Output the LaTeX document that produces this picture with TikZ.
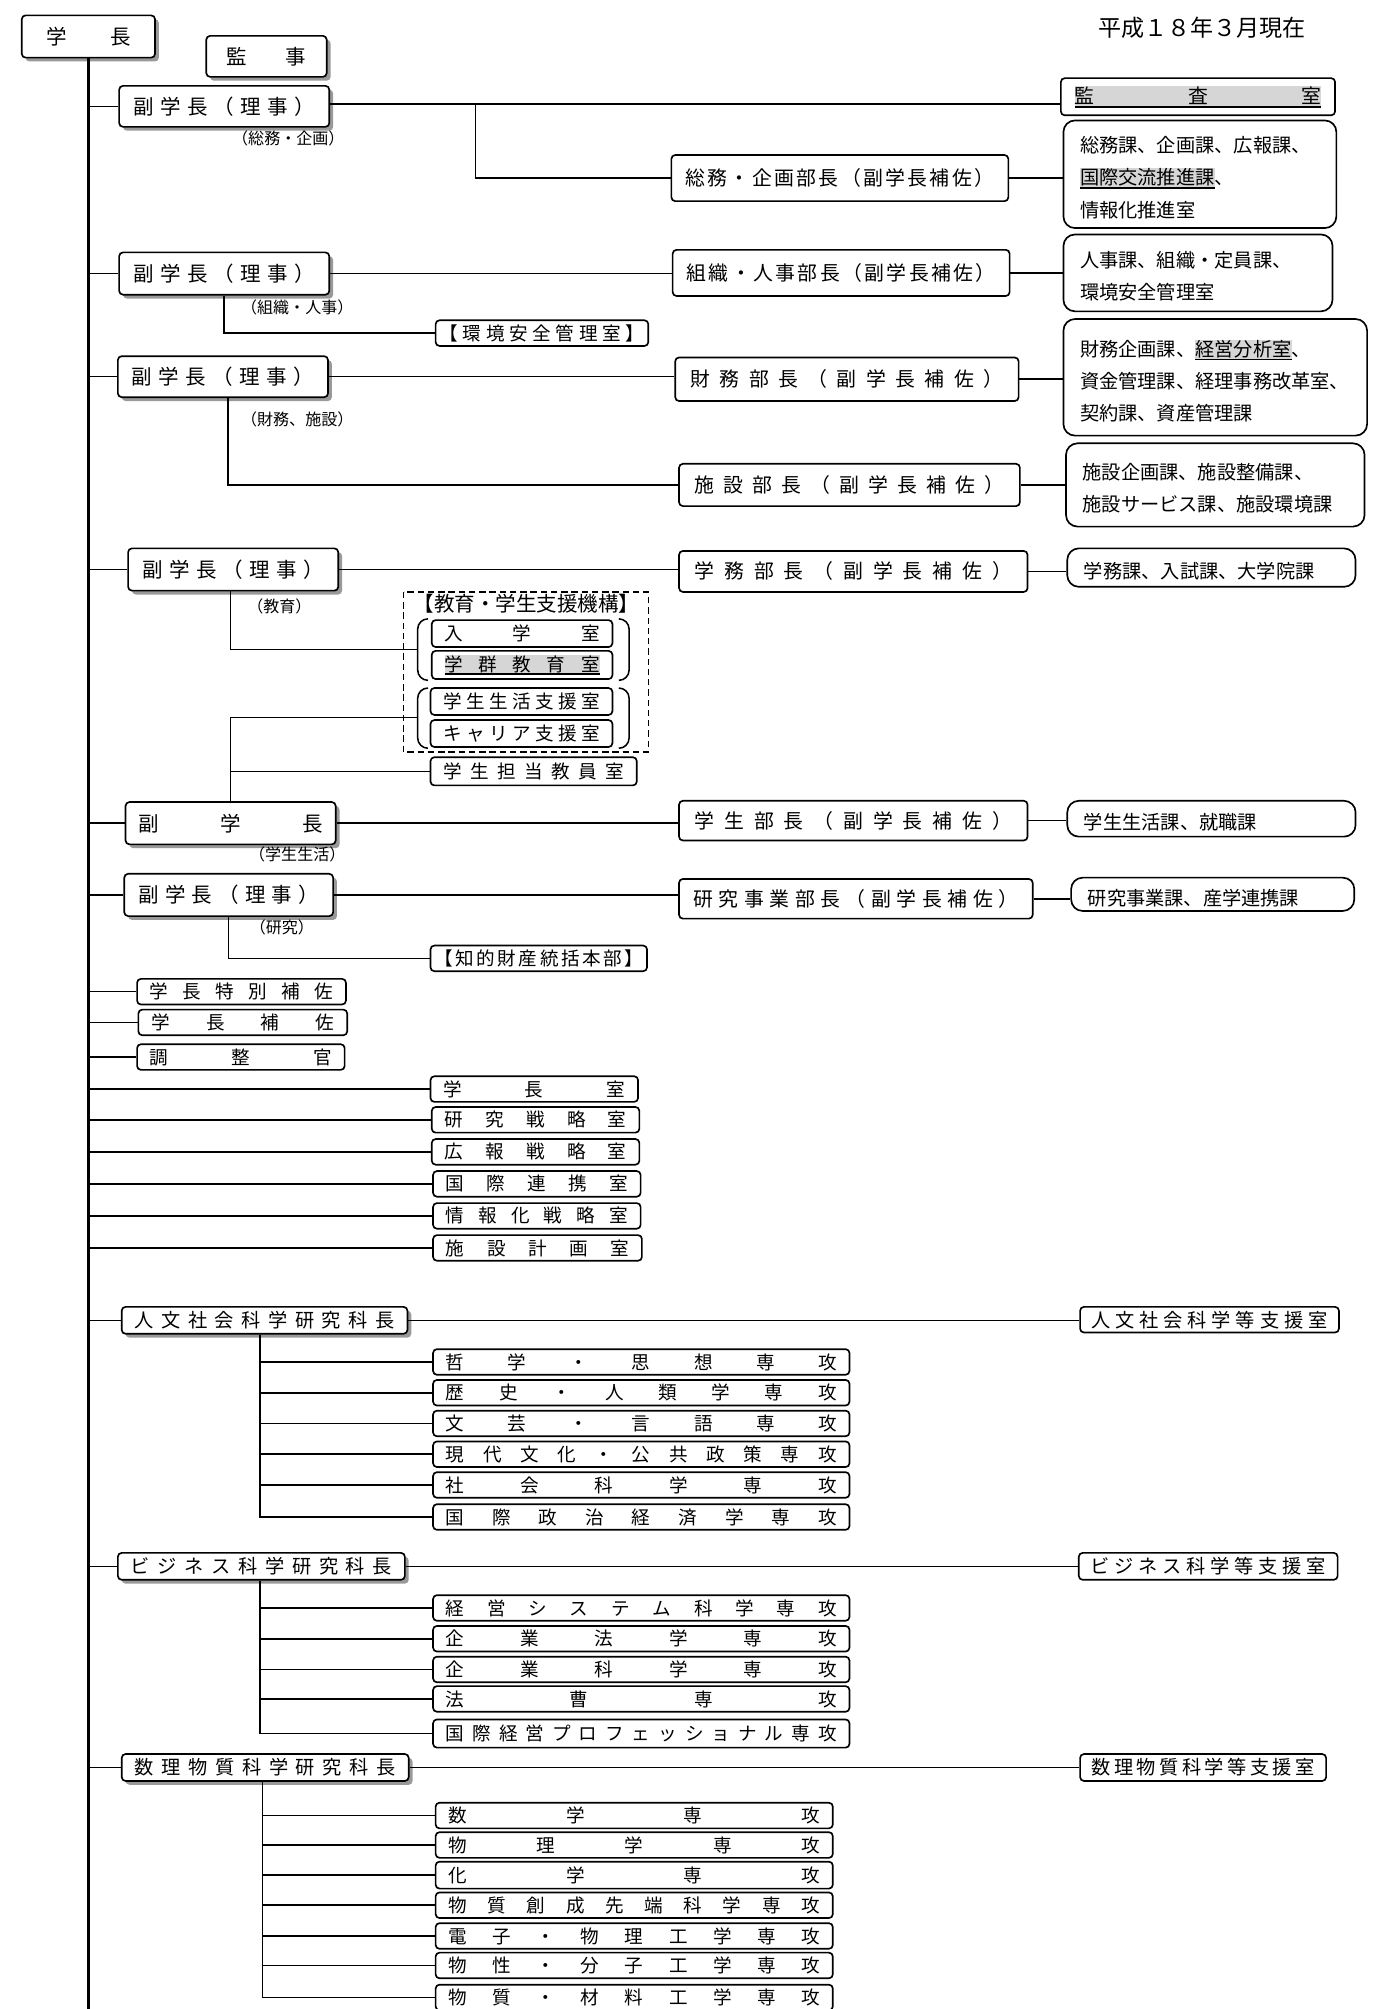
\documentclass[tikz,border=0pt]{standalone}
\usepackage{fontspec}
\setmainfont{Noto Sans CJK JP}
\usetikzlibrary{shadows}
\definecolor{hlgray}{gray}{0.84}
\makeatletter
\newcommand\spr[2]{\makebox[#1][s]{\vrule width0pt height.88em depth.12em\let\spr@first\relax\@tfor\spr@c:=#2\do{\ifx\spr@first\relax\let\spr@first\empty\else\hfill\fi\spr@c}}}
\makeatother
\newsavebox\hlsave
\newcommand\hlu[1]{\leavevmode\sbox\hlsave{#1}\rlap{\color{hlgray}\vrule width\wd\hlsave height.86em depth.13em}\rlap{\vrule width\wd\hlsave height-.13em depth.23em}\usebox\hlsave}
\newcommand\fs[1]{\fontsize{#1pt}{#1pt}\selectfont}
\tikzset{
 box/.style={draw, line width=1.3pt, rounded corners=3pt, fill=white, inner sep=0pt, font=\fs{14.5}},
 bigbox/.style={box, font=\fs{16}, general shadow={fill=black!40, shadow xshift=3pt, shadow yshift=-3pt}},
 bubox/.style={box, font=\fs{15.5}},
 lbox/.style={draw, line width=1.3pt, rounded corners=9pt, fill=white, inner xsep=13pt, inner ysep=0pt, align=left, font=\fontsize{15pt}{25pt}\selectfont},
 conn/.style={line width=1.2pt},
 mainln/.style={line width=2pt},
 lab/.style={inner sep=0pt, font=\fs{12.5}},
}
\newcommand\bx[8][]{%
 \pgfmathsetmacro\bxw{#5-(#3)}\pgfmathsetmacro\bxh{#6-(#4)}\pgfmathsetmacro\bxt{#5-(#3)-2*(#7)}%
 \node[box,#1,minimum width=\bxw pt,minimum height=\bxh pt] (#2) at ({(#3+#5)/2},{(#4+#6)/2}) {\spr{\bxt pt}{#8}};}
\newcommand\bxH[8][]{%
 \pgfmathsetmacro\bxw{#5-(#3)}\pgfmathsetmacro\bxh{#6-(#4)}\pgfmathsetmacro\bxt{#5-(#3)-2*(#7)}%
 \node[box,#1,minimum width=\bxw pt,minimum height=\bxh pt] (#2) at ({(#3+#5)/2},{(#4+#6)/2}) {\hlu{\spr{\bxt pt}{#8}}};}
\newcommand\lbx[6]{%
 \pgfmathsetmacro\bxw{#4-(#2)}\pgfmathsetmacro\bxh{#5-(#3)}\pgfmathsetmacro\bxt{#4-(#2)-26}%
 \node[lbox,minimum width=\bxw pt,minimum height=\bxh pt,text width=\bxt pt] (#1) at ({(#2+#4)/2},{(#3+#5)/2}) {\rule{0pt}{18pt}#6};}
\begin{document}
\begin{tikzpicture}[x=1pt,y=-1pt]
\useasboundingbox (0,0) rectangle (1076,1568);
\node[font=\fs{18}, inner sep=0pt] (date) at (938,22) {平成１８年３月現在};
% top level
\bx[bigbox]{gakucho}{17}{12}{121}{45}{19}{学長}
\bx[bigbox]{kanji}{161}{28}{255}{60}{16}{監事}
\bx[bigbox]{fuku1}{93}{67}{257}{99}{11}{副学長（理事）}
\bx[bigbox]{fuku2}{93}{197}{257}{230}{11}{副学長（理事）}
\bx[bigbox]{fuku3}{92}{278}{256}{310}{11}{副学長（理事）}
\bx[bigbox]{fuku4}{100}{428}{264}{461}{11}{副学長（理事）}
\bx[bigbox]{fuku5}{98}{626}{262}{659}{10}{副学長}
\bx[bigbox]{fuku6}{97}{682}{260}{715}{11}{副学長（理事）}
\node[lab] (lb1) at (225,108) {（総務・企画）};
\node[lab] (lb2) at (232,240) {（組織・人事）};
\node[lab] (lb3) at (232,327) {（財務、施設）};
\node[lab] (lb4) at (218,473) {（教育）};
\node[lab] (lb5) at (232,667) {（学生生活）};
\node[lab] (lb6) at (220,724) {（研究）};
% department heads
\bxH[bubox]{kansa}{828}{61}{1042}{90}{11}{監査室}
\bx[bubox]{soumubu}{524}{121}{787}{157}{11}{総務・企画部長（副学長補佐）}
\bx[bubox]{soshikibu}{525}{195}{788}{231}{11}{組織・人事部長（副学長補佐）}
\bx[bubox]{zaimubu}{527}{279}{795}{313}{12}{財務部長（副学長補佐）}
\bx[bubox]{shisetsubu}{530}{362}{796}{395}{12}{施設部長（副学長補佐）}
\bx[bubox]{gakumubu}{530}{430}{802}{462}{12}{学務部長（副学長補佐）}
\bx[bubox]{gakuseibu}{530}{625}{802}{656}{12}{学生部長（副学長補佐）}
\bx[bubox]{kenkyubu}{530}{686}{806}{717}{11}{研究事業部長（副学長補佐）}
% lists
\lbx{l1}{830}{94}{1043}{178}{総務課、企画課、広報課、\\\hlu{国際交流推進課}、\\情報化推進室}
\lbx{l2}{830}{183}{1040}{243}{人事課、組織・定員課、\\環境安全管理室}
\lbx{l3}{830}{249}{1067}{340}{財務企画課、\hlu{経営分析室}、\\資金管理課、経理事務改革室、\\契約課、資産管理課}
\lbx{l4}{832}{346}{1065}{411}{施設企画課、施設整備課、\\施設サービス課、施設環境課}
\lbx{l5}{833}{428}{1058}{458}{学務課、入試課、大学院課}
\lbx{l6}{833}{625}{1058}{653}{学生生活課、就職課}
\lbx{l7}{836}{685}{1057}{711}{研究事業課、産学連携課}
% middle column
\bx{kankyo}{340}{250}{506}{270}{3}{【環境安全管理室】}
\draw[line width=1.2pt, dash pattern=on 5pt off 3pt] (315,462) rectangle (506,587);
\node[font=\fs{16}, inner sep=0pt] (kikou) at (411,471) {【教育・学生支援機構】};
\bx{nyugaku}{337}{484}{478}{505}{10}{入学室}
\bxH{gakugun}{337}{508}{478}{530}{10}{学群教育室}
\bx{seikatsu}{336}{537}{478}{558}{10}{学生生活支援室}
\bx{career}{336}{562}{478}{583}{10}{キャリア支援室}
\bx{tantou}{336}{591}{497}{613}{10}{学生担当教員室}
\bx{chiteki}{336}{738}{505}{758}{3}{【知的財産統括本部】}
\draw[conn, rounded corners=8pt] (334,483) -- (326,483) -- (326,531) -- (334,531);
\draw[conn, rounded corners=8pt] (483,483) -- (491,483) -- (491,531) -- (483,531);
\draw[conn, rounded corners=8pt] (334,537) -- (326,537) -- (326,584) -- (334,584);
\draw[conn, rounded corners=8pt] (483,537) -- (491,537) -- (491,584) -- (483,584);
\coordinate (br1) at (326,507);
\coordinate (br2) at (326,560);
% staff
\bx{tokubetsu}{107}{764}{270}{784}{10}{学長特別補佐}
\bx{hosa}{108}{788}{271}{808}{10}{学長補佐}
\bx{chousei}{107}{815}{269}{835}{10}{調整官}
\bx{gshitsu}{336}{840}{498}{860}{10}{学長室}
\bx{senryaku}{337}{864}{499}{884}{10}{研究戦略室}
\bx{kouhou}{337}{889}{499}{909}{10}{広報戦略室}
\bx{kokusai}{338}{914}{500}{934}{10}{国際連携室}
\bx{jouhou}{338}{939}{500}{959}{10}{情報化戦略室}
\bx{skeikaku}{338}{964}{501}{984}{10}{施設計画室}
% graduate schools
\bx[bigbox,font=\fs{15}]{jinbun}{95}{1020}{318}{1041}{10}{人文社会科学研究科長}
\bx[font=\fs{15}]{jshien}{843}{1020}{1045}{1040}{9}{人文社会科学等支援室}
\bx{jb1}{338}{1053}{663}{1073}{10}{哲学・思想専攻}
\bx{jb2}{338}{1077}{663}{1097}{10}{歴史・人類学専攻}
\bx{jb3}{338}{1101}{663}{1121}{10}{文芸・言語専攻}
\bx{jb4}{338}{1125}{663}{1145}{10}{現代文化・公共政策専攻}
\bx{jb5}{338}{1149}{663}{1169}{10}{社会科学専攻}
\bx{jb6}{338}{1174}{663}{1194}{10}{国際政治経済学専攻}
\bx[bigbox,font=\fs{15}]{business}{92}{1212}{316}{1233}{10}{ビジネス科学研究科長}
\bx[font=\fs{15}]{bshien}{842}{1212}{1044}{1233}{9}{ビジネス科学等支援室}
\bx{bz1}{338}{1245}{663}{1265}{10}{経営システム科学専攻}
\bx{bz2}{338}{1269}{663}{1289}{10}{企業法学専攻}
\bx{bz3}{338}{1293}{663}{1313}{10}{企業科学専攻}
\bx{bz4}{338}{1316}{663}{1336}{10}{法曹専攻}
\bx{bz5}{338}{1342}{663}{1364}{10}{国際経営プロフェッショナル専攻}
\bx[bigbox,font=\fs{15}]{suri}{95}{1369}{319}{1390}{10}{数理物質科学研究科長}
\bx[font=\fs{15}]{sshien}{843}{1369}{1035}{1390}{9}{数理物質科学等支援室}
\bx{sr1}{340}{1407}{650}{1427}{10}{数学専攻}
\bx{sr2}{340}{1430}{650}{1450}{10}{物理学専攻}
\bx{sr3}{340}{1453}{650}{1474}{10}{化学専攻}
\bx{sr4}{340}{1477}{650}{1497}{10}{物質創成先端科学専攻}
\bx{sr5}{340}{1501}{650}{1521}{10}{電子・物理工学専攻}
\bx{sr6}{340}{1524}{650}{1544}{10}{物性・分子工学専攻}
\bx{sr7}{340}{1549}{650}{1569}{10}{物質・材料工学専攻}
% main line
\coordinate (mbot) at (69,1568);
\draw[mainln] (gakucho.south) -- (gakucho.south |- mbot);
\foreach \n in {fuku1,fuku2,fuku3,fuku4,fuku5,fuku6,tokubetsu,hosa,chousei,gshitsu,senryaku,kouhou,kokusai,jouhou,skeikaku,jinbun,business,suri}
  \draw[conn] (\n.west) -- (\n.west -| mbot);
% branches
\coordinate (jn1) at (371,81);
\draw[conn] (fuku1.east |- jn1) -- (kansa.west |- jn1);
\draw[conn] (jn1) |- (soumubu.west);
\draw[conn] (soumubu.east) -- (soumubu.east -| l1.west);
\draw[conn] (fuku2.east) -- (fuku2.east -| soshikibu.west);
\draw[conn] (fuku2.south) |- (kankyo.west);
\draw[conn] (soshikibu.east) -- (soshikibu.east -| l2.west);
\draw[conn] (fuku3.east) -- (fuku3.east -| zaimubu.west);
\draw[conn] ([xshift=4pt]fuku3.south) |- (shisetsubu.west);
\draw[conn] (zaimubu.east) -- (zaimubu.east -| l3.west);
\draw[conn] (shisetsubu.east) -- (shisetsubu.east -| l4.west);
\draw[conn] (fuku4.east) -- (fuku4.east -| gakumubu.west);
\draw[conn] ([xshift=-2pt]fuku4.south) |- (br1);
\draw[conn] (gakumubu.east) -- (gakumubu.east -| l5.west);
\draw[conn] (fuku5.north) |- (br2);
\draw[conn] (fuku5.north) |- (tantou.west);
\draw[conn] (fuku5.east) -- (fuku5.east -| gakuseibu.west);
\draw[conn] (gakuseibu.east) -- (gakuseibu.east -| l6.west);
\draw[conn] (fuku6.east) -- (fuku6.east -| kenkyubu.west);
\draw[conn] (fuku6.south) |- (chiteki.west);
\draw[conn] (kenkyubu.east) -- (kenkyubu.east -| l7.west);
\draw[conn] (jinbun.east) -- (jinbun.east -| jshien.west);
\foreach \n in {jb1,jb2,jb3,jb4,jb5,jb6} \draw[conn] ([xshift=-3.5pt]jinbun.south) |- (\n.west);
\draw[conn] (business.east) -- (business.east -| bshien.west);
\foreach \n in {bz1,bz2,bz3,bz4,bz5} \draw[conn] ([xshift=-1pt]business.south) |- (\n.west);
\draw[conn] (suri.east) -- (suri.east -| sshien.west);
\foreach \n in {sr1,sr2,sr3,sr4,sr5,sr6,sr7} \draw[conn] ([xshift=-2pt]suri.south) |- (\n.west);
\end{tikzpicture}
\end{document}
